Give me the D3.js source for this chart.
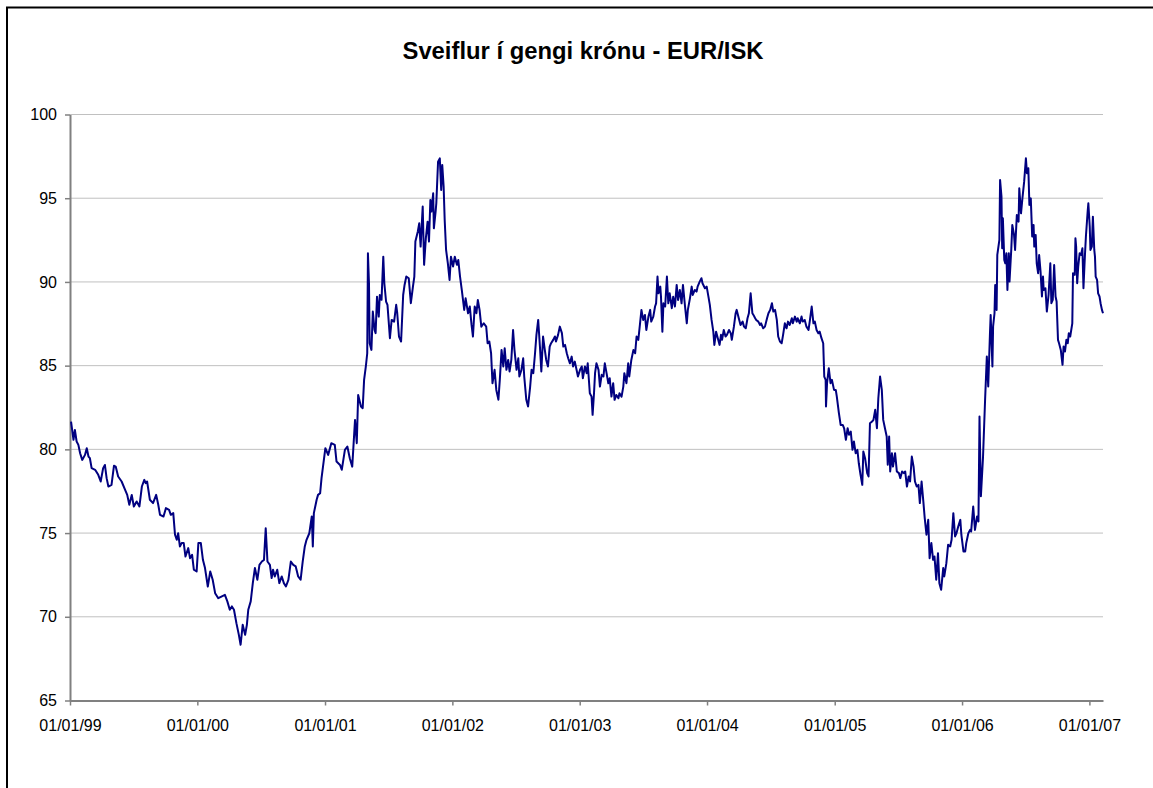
<!DOCTYPE html>
<html>
<head>
<meta charset="utf-8">
<script src="https://cdn.jsdelivr.net/npm/d3@7"></script>
<style>
  body { margin: 0; background: #fff; }
  svg { display: block; font-family: "Liberation Sans", Arial, sans-serif; }
</style>
</head>
<body>
<div id="chart"></div>
<script>
// Gengi EUR/ISK, lesið af mynd (dagsetning, gengi)
const eur1999 = [["1999-01-04",81.66],["1999-01-11",80.57],["1999-01-15",81.16],["1999-01-20",80.47],["1999-01-25",80.27],["1999-01-30",79.77],["1999-02-05",79.37],["1999-02-13",79.67],["1999-02-18",80.07],["1999-02-23",79.57],["1999-02-27",79.47],["1999-03-04",78.88],["1999-03-14",78.78],["1999-03-23",78.48],["1999-03-30",78.08],["1999-04-06",78.88],["1999-04-11",79.07],["1999-04-16",78.28],["1999-04-21",77.78],["1999-04-30",77.88],["1999-05-07",79.02],["1999-05-12",78.97],["1999-05-19",78.38],["1999-05-29",78.08],["1999-06-08",77.58],["1999-06-14",77.28],["1999-06-20",76.69],["1999-06-27",77.28],["1999-07-03",76.59],["1999-07-11",76.89],["1999-07-19",76.59],["1999-07-26",77.78],["1999-08-02",78.18],["1999-08-06",77.98],["1999-08-10",78.08],["1999-08-18",76.99],["1999-08-27",76.79],["1999-09-05",77.28],["1999-09-11",76.69],["1999-09-16",76.09],["1999-09-26",75.99],["1999-10-03",76.49],["1999-10-12",76.39],["1999-10-17",76.09],["1999-10-24",76.19],["1999-10-29",74.90],["1999-11-03",74.60],["1999-11-07",74.99],["1999-11-12",74.20],["1999-11-17",74.40],["1999-11-23",74.40],["1999-11-28",73.60],["1999-12-06",74.10],["1999-12-11",73.50],["1999-12-17",73.70],["1999-12-22",72.81],["1999-12-30",72.71]];

const eur2000 = [["2000-01-04",74.40],["2000-01-11",74.40],["2000-01-17",73.40],["2000-01-23",72.91],["2000-01-31",71.81],["2000-02-07",72.71],["2000-02-14",72.21],["2000-02-21",71.41],["2000-03-01",71.11],["2000-03-10",71.21],["2000-03-20",71.31],["2000-03-27",70.92],["2000-04-03",70.42],["2000-04-09",70.62],["2000-04-15",70.42],["2000-04-22",69.62],["2000-04-29",68.92],["2000-05-04",68.33],["2000-05-10",69.52],["2000-05-17",68.92],["2000-05-22",69.52],["2000-05-26",70.42],["2000-06-02",70.92],["2000-06-08",72.01],["2000-06-14",72.91],["2000-06-21",72.21],["2000-06-27",73.10],["2000-07-04",73.30],["2000-07-10",73.40],["2000-07-15",75.29],["2000-07-20",73.30],["2000-07-27",73.10],["2000-08-01",72.31],["2000-08-05",72.81],["2000-08-10",72.41],["2000-08-17",72.81],["2000-08-23",72.01],["2000-08-30",72.41],["2000-09-05",72.01],["2000-09-11",71.81],["2000-09-18",72.21],["2000-09-25",73.30],["2000-10-02",73.10],["2000-10-09",73.01],["2000-10-16",72.41],["2000-10-23",72.21],["2000-10-29",73.30],["2000-11-04",74.20],["2000-11-09",74.60],["2000-11-17",74.99],["2000-11-24",75.99],["2000-11-27",74.20],["2000-11-30",76.19],["2000-12-08",76.99],["2000-12-12",77.28],["2000-12-18",77.38],["2000-12-22",78.28]];

const eur2001 = [["2001-01-02",80.07],["2001-01-10",79.67],["2001-01-19",80.37],["2001-01-29",80.27],["2001-02-03",79.27],["2001-02-13",79.07],["2001-02-18",78.78],["2001-02-27",79.97],["2001-03-06",80.17],["2001-03-13",79.47],["2001-03-20",78.97],["2001-03-28",81.76],["2001-04-02",80.37],["2001-04-06",83.25],["2001-04-14",82.56],["2001-04-19",82.46],["2001-04-23",84.15],["2001-04-28",84.95],["2001-05-02",85.74],["2001-05-04",91.71],["2001-05-07",89.92],["2001-05-09",86.34],["2001-05-14",85.94],["2001-05-18",88.23],["2001-05-23",87.13],["2001-05-26",86.94],["2001-05-30",89.12],["2001-06-04",87.93],["2001-06-07",89.22],["2001-06-12",88.93],["2001-06-17",91.51],["2001-06-20",89.92],["2001-06-25",88.83],["2001-06-29",88.63],["2001-07-06",86.64],["2001-07-11",87.73],["2001-07-18",87.63],["2001-07-24",88.63],["2001-07-27",88.13],["2001-08-01",86.74],["2001-08-07",86.44],["2001-08-13",89.22],["2001-08-17",89.82],["2001-08-22",90.32],["2001-08-29",90.22],["2001-09-04",88.73],["2001-09-10",89.72],["2001-09-14",90.32],["2001-09-17",92.41],["2001-09-24",93.01],["2001-09-28",93.50],["2001-10-02",92.11],["2001-10-08",94.50],["2001-10-12",91.02],["2001-10-17",92.61],["2001-10-22",93.60],["2001-10-26",92.41],["2001-10-30",94.90],["2001-11-02",94.20],["2001-11-07",95.29],["2001-11-09",93.20],["2001-11-14",94.20],["2001-11-16",94.70],["2001-11-21",97.18],["2001-11-26",97.38],["2001-11-30",95.49],["2001-12-03",96.99],["2001-12-07",95.69],["2001-12-10",93.70],["2001-12-14",91.91],["2001-12-19",91.12],["2001-12-24",90.12],["2001-12-28",91.51]];

const eur2002 = [["2002-01-03",90.92],["2002-01-08",91.51],["2002-01-14",91.02],["2002-01-18",91.31],["2002-01-23",90.32],["2002-01-28",89.52],["2002-02-04",88.33],["2002-02-08",89.02],["2002-02-15",88.13],["2002-02-20",88.53],["2002-02-25",87.43],["2002-03-01",86.74],["2002-03-06",88.53],["2002-03-11",88.13],["2002-03-15",88.92],["2002-03-20",88.33],["2002-03-25",87.33],["2002-04-01",87.53],["2002-04-08",87.33],["2002-04-12",86.34],["2002-04-17",86.44],["2002-04-22",85.74],["2002-04-26",83.95],["2002-05-02",84.75],["2002-05-07",83.55],["2002-05-13",82.96],["2002-05-17",84.15],["2002-05-22",85.94],["2002-05-27",84.95],["2002-05-31",86.04],["2002-06-05",84.75],["2002-06-10",85.34],["2002-06-14",84.65],["2002-06-19",85.34],["2002-06-24",87.13],["2002-06-28",85.94],["2002-07-04",84.75],["2002-07-09",85.44],["2002-07-12",84.35],["2002-07-18",84.75],["2002-07-23",85.44],["2002-07-26",84.35],["2002-08-01",82.96],["2002-08-06",82.56],["2002-08-12",83.75],["2002-08-16",84.75],["2002-08-21",84.55],["2002-08-26",85.74],["2002-08-30",86.84],["2002-09-04",87.73],["2002-09-09",86.14],["2002-09-13",84.65],["2002-09-18",86.74],["2002-09-23",85.94],["2002-09-27",85.34],["2002-10-02",84.95],["2002-10-07",86.14],["2002-10-11",86.34],["2002-10-17",86.54],["2002-10-22",86.74],["2002-10-25",86.44],["2002-10-31",86.84],["2002-11-05",87.33],["2002-11-11",86.94],["2002-11-15",86.14],["2002-11-20",86.24],["2002-11-25",85.74],["2002-11-29",85.44],["2002-12-04",85.14],["2002-12-09",85.54],["2002-12-13",84.95],["2002-12-18",85.24],["2002-12-23",84.75],["2002-12-27",84.35]];

const eur2003 = [["2003-01-02",84.75],["2003-01-07",84.95],["2003-01-10",84.25],["2003-01-16",84.95],["2003-01-21",84.55],["2003-01-24",85.14],["2003-01-30",83.35],["2003-02-04",83.15],["2003-02-07",82.06],["2003-02-11",83.35],["2003-02-14",84.55],["2003-02-18",85.14],["2003-02-24",84.75],["2003-02-28",83.75],["2003-03-05",84.45],["2003-03-10",84.35],["2003-03-14",85.14],["2003-03-19",84.55],["2003-03-24",83.95],["2003-03-28",84.25],["2003-04-02",83.15],["2003-04-07",83.95],["2003-04-11",82.96],["2003-04-16",83.25],["2003-04-22",83.05],["2003-04-25",83.35],["2003-05-01",83.15],["2003-05-06",83.75],["2003-05-09",84.55],["2003-05-15",83.95],["2003-05-20",85.14],["2003-05-23",84.35],["2003-05-29",85.34],["2003-06-04",85.94],["2003-06-09",85.74],["2003-06-13",86.74],["2003-06-18",86.54],["2003-06-23",87.53],["2003-06-27",88.33],["2003-07-02",87.73],["2003-07-07",88.03],["2003-07-11",87.13],["2003-07-17",87.93],["2003-07-22",88.33],["2003-07-25",87.63],["2003-07-31",87.93],["2003-08-05",88.53],["2003-08-08",88.72],["2003-08-12",90.32],["2003-08-15",89.32],["2003-08-20",89.72],["2003-08-22",89.12],["2003-08-26",87.03],["2003-08-29",88.72],["2003-09-03",88.53],["2003-09-08",90.32],["2003-09-12",88.72],["2003-09-16",89.32],["2003-09-22",88.43],["2003-09-26",89.12],["2003-10-01",88.53],["2003-10-06",89.82],["2003-10-10",88.92],["2003-10-15",89.52],["2003-10-20",88.72],["2003-10-24",89.82],["2003-10-30",88.53],["2003-11-04",87.53],["2003-11-07",88.33],["2003-11-13",89.02],["2003-11-18",89.72],["2003-11-21",89.22],["2003-11-27",89.52],["2003-12-02",89.42],["2003-12-05",89.72],["2003-12-11",90.02],["2003-12-16",90.22],["2003-12-19",89.92],["2003-12-26",89.62],["2003-12-31",89.72]];

const eur2004 = [["2004-01-05",89.12],["2004-01-09",88.63],["2004-01-14",87.73],["2004-01-19",87.03],["2004-01-22",86.24],["2004-01-27",87.03],["2004-02-02",86.54],["2004-02-06",86.24],["2004-02-10",86.84],["2004-02-13",86.54],["2004-02-18",87.13],["2004-02-23",86.74],["2004-02-27",86.84],["2004-03-04",87.13],["2004-03-09",86.94],["2004-03-12",86.54],["2004-03-18",87.33],["2004-03-23",88.13],["2004-03-26",88.33],["2004-04-01",87.83],["2004-04-06",87.43],["2004-04-12",87.63],["2004-04-16",87.33],["2004-04-21",87.23],["2004-04-26",87.83],["2004-04-30",88.13],["2004-05-05",89.32],["2004-05-10",88.13],["2004-05-13",88.03],["2004-05-18",87.83],["2004-05-21",87.73],["2004-05-27",87.63],["2004-06-01",87.43],["2004-06-04",87.53],["2004-06-10",87.23],["2004-06-15",87.33],["2004-06-21",87.83],["2004-06-25",88.13],["2004-06-30",88.33],["2004-07-05",88.73],["2004-07-09",88.23],["2004-07-14",88.33],["2004-07-19",87.73],["2004-07-23",86.74],["2004-07-28",86.44],["2004-08-02",86.34],["2004-08-06",86.84],["2004-08-11",87.53],["2004-08-16",87.23],["2004-08-20",87.63],["2004-08-25",87.43],["2004-08-31",87.83],["2004-09-03",87.53],["2004-09-09",87.93],["2004-09-14",87.63],["2004-09-17",87.83],["2004-09-23",87.53],["2004-09-28",87.93],["2004-10-01",87.63],["2004-10-07",87.73],["2004-10-12",87.33],["2004-10-18",87.13],["2004-10-22",87.73],["2004-10-27",88.53],["2004-11-01",87.53],["2004-11-05",87.63],["2004-11-10",87.13],["2004-11-15",86.93],["2004-11-19",87.03],["2004-11-24",86.64],["2004-11-29",86.34],["2004-12-02",84.35],["2004-12-06",84.15],["2004-12-07",82.56],["2004-12-10",83.95],["2004-12-15",84.85],["2004-12-20",83.95],["2004-12-24",84.15],["2004-12-30",83.55]];

const eur2005 = [["2005-01-04",83.55],["2005-01-07",83.15],["2005-01-13",82.16],["2005-01-18",81.46],["2005-01-24",81.46],["2005-01-28",81.26],["2005-02-02",80.57],["2005-02-07",81.26],["2005-02-11",80.87],["2005-02-16",81.06],["2005-02-21",79.97],["2005-02-25",80.47],["2005-03-02",79.77],["2005-03-07",79.97],["2005-03-11",79.17],["2005-03-16",78.48],["2005-03-21",77.88],["2005-03-24",79.87],["2005-03-29",79.47],["2005-04-04",78.58],["2005-04-08",78.38],["2005-04-12",81.56],["2005-04-18",81.66],["2005-04-22",81.76],["2005-04-27",82.36],["2005-05-02",81.26],["2005-05-06",83.05],["2005-05-11",84.35],["2005-05-16",83.55],["2005-05-20",81.76],["2005-05-25",81.26],["2005-05-30",80.77],["2005-06-02",79.08],["2005-06-06",80.77],["2005-06-09",78.68],["2005-06-14",79.77],["2005-06-17",78.97],["2005-06-23",79.77],["2005-06-28",78.68],["2005-07-04",78.58],["2005-07-08",78.28],["2005-07-13",78.68],["2005-07-18",78.58],["2005-07-22",78.68],["2005-07-27",77.78],["2005-08-01",78.38],["2005-08-05",78.08],["2005-08-10",79.57],["2005-08-15",78.97],["2005-08-19",78.08],["2005-08-24",77.78],["2005-08-29",77.88],["2005-09-02",76.79],["2005-09-07",78.08],["2005-09-12",76.89],["2005-09-16",75.89],["2005-09-21",74.90],["2005-09-26",75.79],["2005-09-30",73.50],["2005-10-05",74.40],["2005-10-10",73.40],["2005-10-14",73.60],["2005-10-19",72.21],["2005-10-24",73.80],["2005-10-28",72.01],["2005-11-02",71.61],["2005-11-08",72.91],["2005-11-11",72.41],["2005-11-17",73.20],["2005-11-22",74.30],["2005-11-28",74.20],["2005-12-02",74.60],["2005-12-07",76.19],["2005-12-12",74.80],["2005-12-16",74.99],["2005-12-21",75.39],["2005-12-27",75.79],["2005-12-30",74.90]];

const eur2006 = [["2006-01-05",73.90],["2006-01-10",73.90],["2006-01-13",74.40],["2006-01-19",74.99],["2006-01-24",75.19],["2006-01-27",75.09],["2006-02-02",76.59],["2006-02-07",75.19],["2006-02-13",75.99],["2006-02-17",75.69],["2006-02-20",81.96],["2006-02-24",77.20],["2006-03-02",79.50],["2006-03-08",82.95],["2006-03-13",85.54],["2006-03-17",83.75],["2006-03-22",86.94],["2006-03-24",88.03],["2006-03-29",84.95],["2006-03-31",87.34],["2006-04-04",88.13],["2006-04-06",89.82],["2006-04-10",88.33],["2006-04-12",91.61],["2006-04-18",92.51],["2006-04-20",96.09],["2006-04-24",95.09],["2006-04-26",92.01],["2006-04-28",93.80],["2006-05-02",91.31],["2006-05-05",91.11],["2006-05-08",91.71],["2006-05-11",89.52],["2006-05-15",91.71],["2006-05-17",90.02],["2006-05-22",91.91],["2006-05-25",93.40],["2006-05-30",92.81],["2006-06-02",91.91],["2006-06-07",94.00],["2006-06-12",93.60],["2006-06-14",95.59],["2006-06-19",94.10],["2006-06-23",94.99],["2006-06-28",95.99],["2006-07-03",97.38],["2006-07-06",96.49],["2006-07-10",96.79],["2006-07-13",94.60],["2006-07-17",94.99],["2006-07-21",92.71],["2006-07-25",93.40],["2006-07-27",92.11],["2006-07-31",92.81],["2006-08-03",91.11],["2006-08-07",90.52],["2006-08-10",91.61],["2006-08-14",90.62],["2006-08-18",89.13],["2006-08-21",90.32],["2006-08-23",89.52],["2006-08-28",89.62],["2006-09-01",88.23],["2006-09-06",89.23],["2006-09-11",91.11],["2006-09-14",88.73],["2006-09-18",88.93],["2006-09-22",91.01],["2006-09-26",89.13],["2006-09-29",88.83],["2006-10-03",86.54],["2006-10-06",86.34],["2006-10-11",85.94],["2006-10-16",85.05],["2006-10-19",86.14],["2006-10-23",85.84],["2006-10-27",86.54],["2006-10-31",86.34],["2006-11-03",86.94],["2006-11-07",86.74],["2006-11-13",87.53],["2006-11-15",90.52],["2006-11-20",90.42],["2006-11-22",92.61],["2006-11-24",92.11],["2006-11-27",89.92],["2006-11-30",90.92],["2006-12-04",91.71],["2006-12-08",91.61],["2006-12-12",92.01],["2006-12-15",89.62],["2006-12-19",91.51],["2006-12-22",92.71],["2006-12-27",94.20],["2006-12-29",94.70]];

const eur2007 = [["2007-01-02",93.30],["2007-01-04",91.91],["2007-01-08",92.11],["2007-01-11",93.90],["2007-01-15",91.91],["2007-01-17",91.51],["2007-01-19",90.32],["2007-01-23",90.12],["2007-01-26",89.32],["2007-01-30",89.13],["2007-02-02",88.73],["2007-02-06",88.33],["2007-02-09",88.13]];

// Ásar og titill
const xTickDates = ["1999-01-01","2000-01-01","2001-01-01","2002-01-01","2003-01-01","2004-01-01","2005-01-01","2006-01-01","2007-01-01"];
const xDomain = ["1999-01-01","2007-02-09"];
const yTicks = [65, 70, 75, 80, 85, 90, 95, 100];
const yDomain = [65, 100];
const chartTitle = "Sveiflur í gengi krónu - EUR/ISK";

const width = 1153;
const height = 788;
const plot = { left: 70, right: 1103, top: 114.5, bottom: 700.5 };

const parseDate = d3.timeParse("%Y-%m-%d");
const series = [].concat(eur1999, eur2000, eur2001, eur2002, eur2003, eur2004, eur2005, eur2006, eur2007)
    .map(d => ({ date: parseDate(d[0]), value: d[1] }));

const svg = d3.select("#chart")
    .append("svg")
    .attr("width", width)
    .attr("height", height);

// Rammi utan um myndina
svg.append("rect")
    .attr("x", 7)
    .attr("y", 7.5)
    .attr("width", 1300)
    .attr("height", 1000)
    .attr("fill", "none")
    .attr("stroke", "#000")
    .attr("stroke-width", 2);

const x = d3.scaleTime()
    .domain(xDomain.map(parseDate))
    .range([plot.left, plot.right]);

const y = d3.scaleLinear()
    .domain(yDomain)
    .range([plot.bottom, plot.top]);

// Láréttar hjálparlínur
svg.append("g")
    .selectAll("line")
    .data(yTicks.filter(v => v > yDomain[0]))
    .enter()
    .append("line")
    .attr("x1", plot.left)
    .attr("x2", plot.right)
    .attr("y1", d => y(d))
    .attr("y2", d => y(d))
    .attr("stroke", "#c0c0c0")
    .attr("stroke-width", 1);

// Y-ás
const yAxis = svg.append("g")
    .attr("transform", `translate(${plot.left},0)`)
    .call(d3.axisLeft(y).tickValues(yTicks).tickSize(5).tickSizeOuter(0).tickPadding(8));

// X-ás
const xAxis = svg.append("g")
    .attr("transform", `translate(0,${plot.bottom})`)
    .call(d3.axisBottom(x)
        .tickValues(xTickDates.map(parseDate))
        .tickFormat(d3.timeFormat("%d/%m/%y"))
        .tickSize(5)
        .tickSizeOuter(0)
        .tickPadding(14));

[yAxis, xAxis].forEach(ax => {
    ax.select(".domain").attr("stroke", "#808080").attr("stroke-width", 2);
    ax.selectAll(".tick line").attr("stroke", "#808080").attr("stroke-width", 1.5);
    ax.selectAll(".tick text")
        .attr("fill", "#000")
        .style("font-family", '"Liberation Sans", Arial, sans-serif')
        .style("font-size", "16px");
});

// Gengislína
const line = d3.line()
    .x(d => x(d.date))
    .y(d => y(d.value));

svg.append("path")
    .datum(series)
    .attr("d", line)
    .attr("fill", "none")
    .attr("stroke", "#000080")
    .attr("stroke-width", 2)
    .attr("stroke-linejoin", "round");

// Titill
svg.append("text")
    .attr("x", 583)
    .attr("y", 59)
    .attr("text-anchor", "middle")
    .attr("font-size", "23.8px")
    .attr("font-weight", "bold")
    .attr("fill", "#000")
    .text(chartTitle);
</script>
</body>
</html>
